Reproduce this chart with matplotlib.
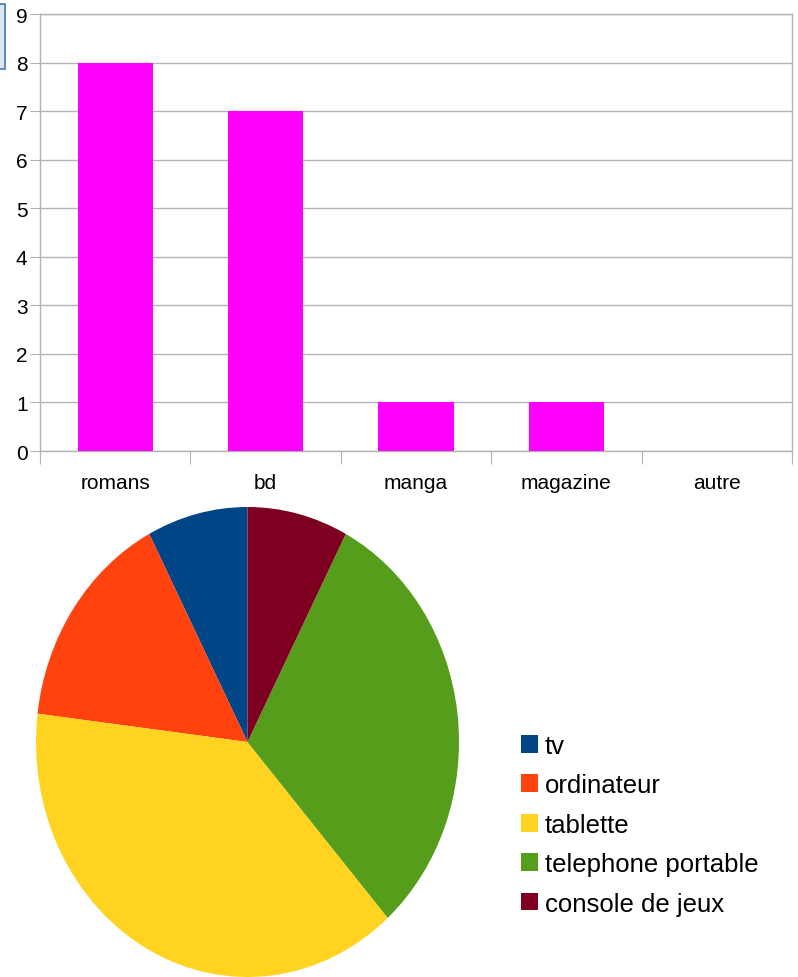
import matplotlib
matplotlib.use('Agg')
import matplotlib.pyplot as plt
from matplotlib.patches import Patch, Rectangle
import numpy as np

plt.rcParams['font.family'] = ['Liberation Sans', 'DejaVu Sans']

# bar chart data
categories = ['romans', 'bd', 'manga', 'magazine', 'autre']
counts = [8, 7, 1, 1, 0]

# pie chart data
devices = ['tv', 'ordinateur', 'tablette', 'telephone portable', 'console de jeux']
device_counts = [1, 2, 5, 4, 1]
device_colors = ['#004586', '#ff420e', '#ffd320', '#579d1c', '#7e0021']

W, H = 798, 978
fig = plt.figure(figsize=(W / 100, H / 100), dpi=100)

# small selection box at the top-left edge
fig.patches.append(Rectangle((-5 / W, 1 - 70 / H), 10 / W, 65 / H,
                             transform=fig.transFigure, facecolor='#dde6f2',
                             edgecolor='#4a74b4', linewidth=1.2))

grid_col = '#b3b3b3'
ax = fig.add_axes([40 / W, 1 - 452 / H, 752 / W, 437 / H])
x = np.arange(len(categories))
ax.bar(x, counts, width=0.5, color='#ff00ff', zorder=3)
ax.set_xlim(-0.5, len(categories) - 0.5)
ax.set_ylim(0, 9)
ax.set_yticks(range(10))
ax.yaxis.grid(True, color=grid_col, linewidth=1)
ax.set_axisbelow(True)
for s in ax.spines.values():
    s.set_color(grid_col)
    s.set_linewidth(1)
ax.tick_params(axis='y', length=7, color=grid_col, labelsize=15, pad=2)
ax.set_xticks(np.arange(len(categories) + 1) - 0.5)
ax.set_xticklabels([])
ax.tick_params(axis='x', length=9, color=grid_col)
ax.set_xticks(x, minor=True)
ax.set_xticklabels(categories, minor=True)
ax.tick_params(axis='x', which='minor', length=0, labelsize=15, pad=16)

# pie chart
pax = fig.add_axes([36 / W, 0, 423 / W, 470 / H])
pax.pie(device_counts, colors=device_colors, startangle=90, counterclock=True,
        radius=1)
pax.set_aspect('auto')
pax.set_xlim(-1, 1)
pax.set_ylim(-1, 1)
pax.axis('off')

handles = [Patch(facecolor=c, edgecolor='none') for c in device_colors]
fig.legend(handles, devices, loc='upper left',
           bbox_to_anchor=(508 / W, 1 - 722 / H), frameon=False,
           fontsize=18.5, handlelength=0.68, handleheight=0.68,
           handletextpad=0.25, labelspacing=0.6, borderpad=0)

fig.savefig('out.png', dpi=100)
